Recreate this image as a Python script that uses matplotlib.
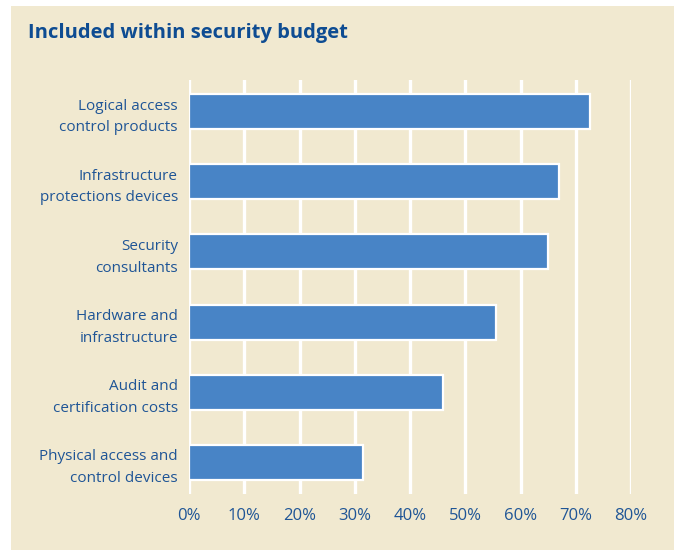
import matplotlib.pyplot as plt
from matplotlib.patches import Rectangle

# budget items, top to bottom
items = ['Logical access\ncontrol products',
         'Infrastructure\nprotections devices',
         'Security\nconsultants',
         'Hardware and\ninfrastructure',
         'Audit and\ncertification costs',
         'Physical access and\ncontrol devices']
shares = [72.5, 67, 65, 55.5, 46, 31.5]
ticks = [0, 10, 20, 30, 40, 50, 60, 70, 80]

beige = '#F1E9D0'
bar_blue = '#4884C6'
text_blue = '#1F5596'
title_blue = '#0E4C92'

plt.rcParams['font.family'] = ['Open Sans', 'DejaVu Sans']

fig = plt.figure(figsize=(6.77, 5.5), dpi=100, facecolor='white')
fig.patches.append(Rectangle((11 / 677, 0), 663 / 677, 544 / 550,
                             transform=fig.transFigure, facecolor=beige,
                             edgecolor='none', zorder=-10))

fig.text(28 / 677, 1 - 33 / 550, 'Included within security budget',
         color=title_blue, fontsize=14.5, fontweight='bold', va='center')

ax = fig.add_axes([189 / 677, 1 - 494 / 550, 442 / 677, 414 / 550])
ax.set_facecolor(beige)
ypos = list(range(len(items)))
ax.barh(ypos, shares, height=0.5, color=bar_blue, edgecolor='white',
        linewidth=1.6, zorder=3)
ax.set_ylim(len(items) - 0.55, -0.45)
ax.set_xlim(0, 80)
ax.set_xticks(ticks)
ax.set_xticklabels([f'{t}%' for t in ticks])
ax.set_yticks(ypos)
ax.set_yticklabels(items, linespacing=1.6, ha='right')
ax.tick_params(axis='both', length=0, labelcolor=text_blue)
ax.tick_params(axis='y', pad=8, labelsize=11)
ax.tick_params(axis='x', pad=10, labelsize=12)
for x in ticks:
    ax.axvline(x, color='white', linewidth=2.4, zorder=1)
for s in ax.spines.values():
    s.set_visible(False)

fig.savefig('out.png', dpi=100, facecolor='white')
